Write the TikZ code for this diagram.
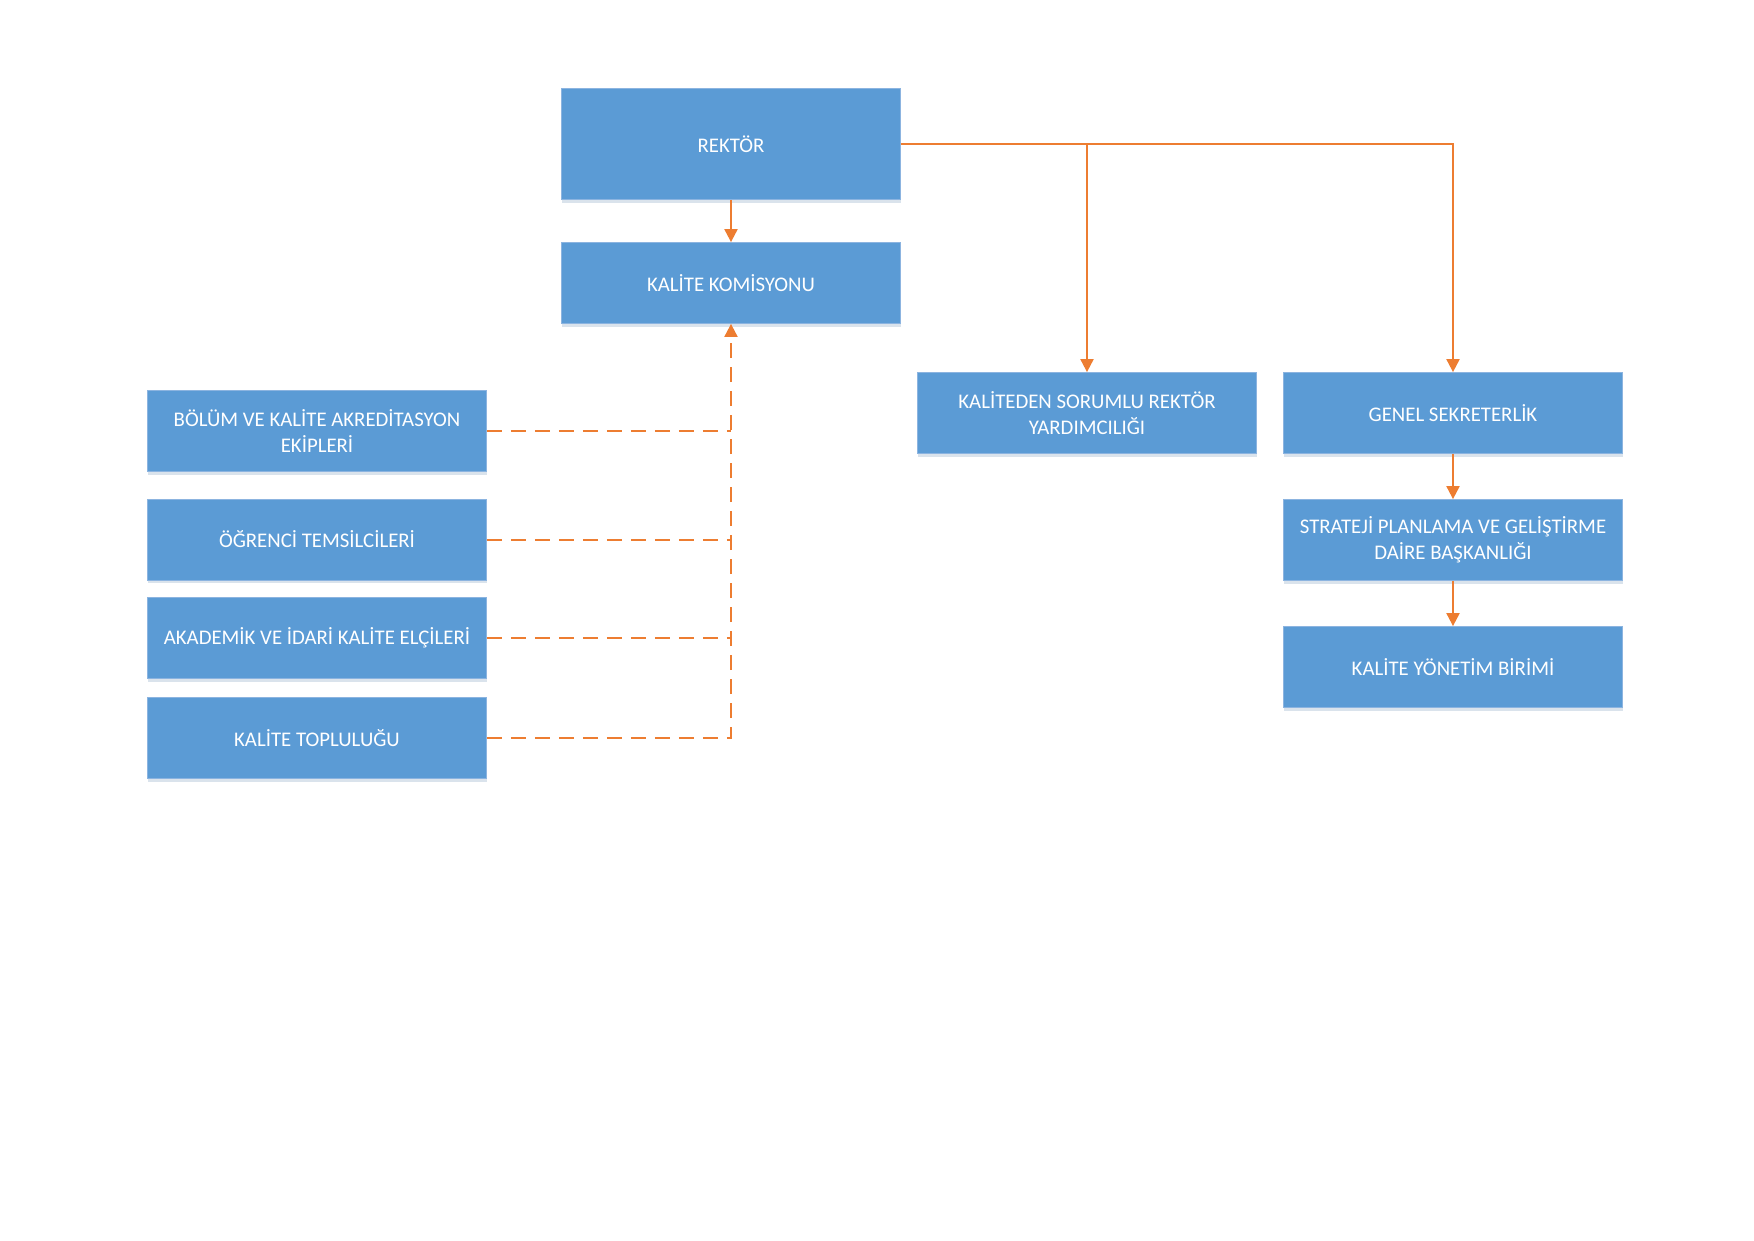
\documentclass[tikz,border=0pt]{standalone}
\usepackage{fontspec}
\setmainfont{Carlito}
\usetikzlibrary{arrows.meta,shadows}
\definecolor{boxblue}{HTML}{5B9BD5}
\definecolor{boxedge}{HTML}{8CB4E0}
\definecolor{lineorange}{HTML}{ED7D31}
\begin{document}
\begin{tikzpicture}[x=1pt,y=-1pt,
  box/.style={fill=boxblue, draw=boxedge, line width=0.8pt, text=white,
    minimum width=339pt, minimum height=81pt, inner sep=2pt, align=center,
    font=\fontsize{20.8}{25.5}\selectfont,
    drop shadow={shadow xshift=0pt, shadow yshift=-3pt, opacity=0.25, fill=boxblue!60!gray}},
  conn/.style={draw=lineorange, line width=2pt, -{Triangle[width=13pt,length=13pt]}},
  dashconn/.style={draw=lineorange, line width=2pt, dash pattern=on 15pt off 9pt},
]
\useasboundingbox (0,0) rectangle (1754,1240);
\node[box, minimum height=111pt] (rek) at (731,144) {REKTÖR};
\node[box] (kom) at (731,283) {KALİTE KOMİSYONU};
\node[box] (bol) at (317,431) {BÖLÜM VE KALİTE AKREDİTASYON\\EKİPLERİ};
\node[box] (ogr) at (317,539.5) {ÖĞRENCİ TEMSİLCİLERİ};
\node[box] (aka) at (317,638) {AKADEMİK VE İDARİ KALİTE ELÇİLERİ};
\node[box] (top) at (317,738) {KALİTE TOPLULUĞU};
\node[box] (sor) at (1087,413) {KALİTEDEN SORUMLU REKTÖR\\YARDIMCILIĞI};
\node[box] (gen) at (1453,413) {GENEL SEKRETERLİK};
\node[box] (str) at (1453,540) {STRATEJİ PLANLAMA VE GELİŞTİRME\\DAİRE BAŞKANLIĞI};
\node[box] (kyb) at (1453,667) {KALİTE YÖNETİM BİRİMİ};
\coordinate (corner) at (top.east -| kom.south);
\draw[conn] (rek.south) -- (kom.north);
\draw[conn] (rek.east) -| (sor.north);
\draw[conn] (rek.east) -| (gen.north);
\draw[conn] (gen.south) -- (str.north);
\draw[conn] (str.south) -- (kyb.north);
\draw[dashconn] (bol.east) -- (bol.east -| kom.south);
\draw[dashconn] (ogr.east) -- (ogr.east -| kom.south);
\draw[dashconn] (aka.east) -- (aka.east -| kom.south);
\draw[dashconn, -{Triangle[width=13pt,length=13pt]}] (top.east) -- (corner) -- (kom.south);
\end{tikzpicture}
\end{document}
